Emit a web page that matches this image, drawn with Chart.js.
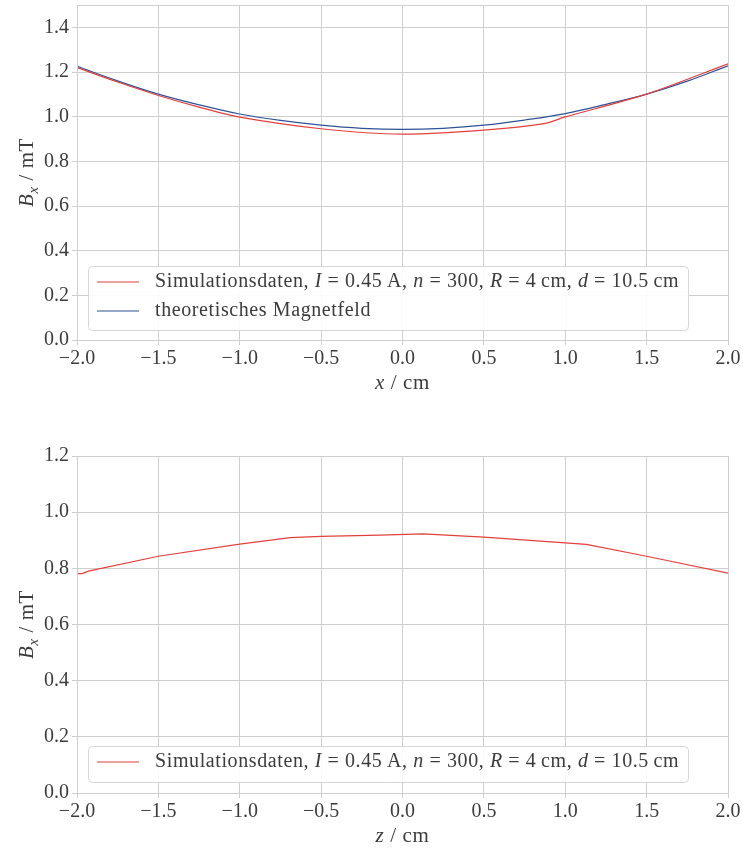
<!DOCTYPE html>
<html>
<head>
<meta charset="utf-8">
<script src="https://cdn.jsdelivr.net/npm/chart.js@4"></script>
<style>
  body { margin: 0; background: #fff; overflow: hidden; }
  canvas { position: absolute; left: 0; }
  #topChart { top: -10px; }
  #bottomChart { top: 410px; }
</style>
</head>
<body>
<canvas id="topChart" width="743" height="420"></canvas>
<canvas id="bottomChart" width="743" height="439"></canvas>
<script>
// Messpunkte entlang x (oben) und z (unten)
const xSim = [-2.0, -1.75, -1.5, -1.25, -1.0, -0.5, 0.0, 0.5, 0.87, 1.0, 1.5, 2.0];
const bxSim = [1.220, 1.155, 1.095, 1.043, 0.998, 0.946, 0.922, 0.940, 0.969, 0.999, 1.101, 1.237];

const xTheory = [-2.0, -1.75, -1.5, -1.25, -1.0, -0.75, -0.5, -0.25, 0.0, 0.25, 0.5, 0.75, 1.0, 1.25, 1.5, 1.75, 2.0];
const bxTheory = [1.225, 1.160, 1.101, 1.053, 1.012, 0.983, 0.962, 0.948, 0.943, 0.948, 0.962, 0.985, 1.014, 1.055, 1.101, 1.159, 1.228];

const zSim = [-2.0, -1.97, -1.93, -1.5, -1.0, -0.69, -0.5, -0.14, 0.125, 0.5, 1.0, 1.13, 1.5, 2.0];
const bzSim = [0.781, 0.781, 0.790, 0.843, 0.886, 0.909, 0.914, 0.918, 0.923, 0.911, 0.891, 0.885, 0.843, 0.783];

const xTicks = [-2.0, -1.5, -1.0, -0.5, 0.0, 0.5, 1.0, 1.5, 2.0];
const yTicksTop = [0.0, 0.2, 0.4, 0.6, 0.8, 1.0, 1.2, 1.4];
const yTicksBottom = [0.0, 0.2, 0.4, 0.6, 0.8, 1.0, 1.2];

const simLabel = [
  { t: "Simulationsdaten, " }, { t: "I", it: true }, { t: " = 0.45\u2009A, " },
  { t: "n", it: true }, { t: " = 300, " }, { t: "R", it: true }, { t: " = 4\u2009cm, " },
  { t: "d", it: true }, { t: " = 10.5\u2009cm" }
];
const theoryLabel = [{ t: "theoretisches Magnetfeld" }];

const RED = "#e2403b";
const BLUE = "#2f5296";
const GRID = "#cfcfcf";
const TEXT = "#3c3c3c";
const FONT = "'Liberation Serif', serif";

function pts(xs, ys) {
  return xs.map((x, i) => ({ x: x, y: ys[i] }));
}

function fmt(v) {
  const s = Math.abs(v).toFixed(1);
  return v < -1e-9 ? "\u2212" + s : s;
}

// Text mit kursiven Teilen und Index zeichnen
function drawParts(ctx, parts, x, y, size) {
  let cx = x;
  parts.forEach(p => {
    const sz = p.sub ? size * 0.7 : size;
    ctx.font = (p.it ? "italic " : "") + sz + "px " + FONT;
    ctx.fillText(p.t, cx, p.sub ? y + size * 0.22 : y);
    cx += ctx.measureText(p.t).width;
  });
  return cx - x;
}

function partsWidth(ctx, parts, size) {
  let w = 0;
  parts.forEach(p => {
    const sz = p.sub ? size * 0.7 : size;
    ctx.font = (p.it ? "italic " : "") + sz + "px " + FONT;
    w += ctx.measureText(p.t).width;
  });
  return w;
}

const decor = {
  id: "decor",
  afterDraw(chart, args, opts) {
    const ctx = chart.ctx;
    const a = chart.chartArea;
    ctx.save();
    // Rahmen
    ctx.strokeStyle = GRID;
    ctx.lineWidth = 1;
    ctx.strokeRect(Math.round(a.left) + 0.5, Math.round(a.top) + 0.5,
      Math.round(a.right - a.left), Math.round(a.bottom - a.top));

    // Achsentitel
    ctx.fillStyle = TEXT;
    ctx.textBaseline = "alphabetic";
    ctx.letterSpacing = "0.6px";
    const size = 21;
    const xt = [{ t: opts.xVar, it: true }, { t: " / cm" }];
    const xw = partsWidth(ctx, xt, size);
    drawParts(ctx, xt, (a.left + a.right) / 2 - xw / 2, a.bottom + opts.xTitleOffset, size);

    const yt = [{ t: "B", it: true }, { t: "x", it: true, sub: true }, { t: " / mT" }];
    const yw = partsWidth(ctx, yt, size);
    ctx.translate(33, (a.top + a.bottom) / 2);
    ctx.rotate(-Math.PI / 2);
    drawParts(ctx, yt, -yw / 2, 0, size);
    ctx.setTransform(1, 0, 0, 1, 0, 0);

    // Legende
    const lg = opts.legend;
    ctx.beginPath();
    ctx.roundRect(lg.x + 0.5, lg.y + 0.5, lg.w, lg.h, 4);
    ctx.fillStyle = "rgba(255,255,255,0.9)";
    ctx.fill();
    ctx.strokeStyle = "#d6d6d6";
    ctx.stroke();
    lg.items.forEach((it, i) => {
      const yy = lg.y + 16 + i * 29;
      ctx.strokeStyle = it.color;
      ctx.lineWidth = 1.2;
      ctx.beginPath();
      ctx.moveTo(lg.x + 9, yy);
      ctx.lineTo(lg.x + 51, yy);
      ctx.stroke();
      ctx.fillStyle = TEXT;
      ctx.textBaseline = "middle";
      drawParts(ctx, it.parts, lg.x + 67, yy, 20);
    });
    ctx.restore();
  }
};

function makeScales(yMax, yTicks, xHeight) {
  return {
    x: {
      type: "linear",
      min: -2,
      max: 2,
      afterBuildTicks: s => { s.ticks = xTicks.map(v => ({ value: v })); },
      afterFit: s => { s.height = xHeight; },
      grid: { color: GRID, tickLength: 5, tickColor: GRID },
      border: { color: GRID },
      ticks: { color: TEXT, font: { family: FONT, size: 20 }, padding: 2, maxRotation: 0, callback: v => fmt(v) }
    },
    y: {
      min: 0,
      max: yMax,
      afterBuildTicks: s => { s.ticks = yTicks.map(v => ({ value: v })); },
      afterFit: s => { s.width = 77; },
      grid: { color: GRID, tickLength: 5, tickColor: GRID },
      border: { color: GRID },
      ticks: { color: TEXT, font: { family: FONT, size: 20 }, padding: 3, callback: v => fmt(v) }
    }
  };
}

let topChart = new Chart(document.getElementById("topChart").getContext("2d"), {
  type: "line",
  data: {
    datasets: [
      { label: "Simulationsdaten", data: pts(xSim, bxSim), borderColor: RED, borderWidth: 1.2, pointRadius: 0, tension: 0.3 },
      { label: "theoretisches Magnetfeld", data: pts(xTheory, bxTheory), borderColor: BLUE, borderWidth: 1.2, pointRadius: 0, tension: 0.4 }
    ]
  },
  options: {
    responsive: false,
    animation: false,
    devicePixelRatio: 1,
    layout: { padding: { left: 0, right: 15, top: 15, bottom: 0 } },
    scales: makeScales(1.5, yTicksTop, 70),
    plugins: {
      legend: { display: false },
      tooltip: { enabled: false },
      decor: {
        xVar: "x",
        xTitleOffset: 49,
        legend: {
          x: 88, y: 276, w: 600, h: 64,
          items: [{ color: RED, parts: simLabel }, { color: BLUE, parts: theoryLabel }]
        }
      }
    }
  },
  plugins: [decor]
});

let bottomChart = new Chart(document.getElementById("bottomChart").getContext("2d"), {
  type: "line",
  data: {
    datasets: [
      { label: "Simulationsdaten", data: pts(zSim, bzSim), borderColor: RED, borderWidth: 1.2, pointRadius: 0, tension: 0 }
    ]
  },
  options: {
    responsive: false,
    animation: false,
    devicePixelRatio: 1,
    layout: { padding: { left: 0, right: 15, top: 46, bottom: 0 } },
    scales: makeScales(1.2, yTicksBottom, 56),
    plugins: {
      legend: { display: false },
      tooltip: { enabled: false },
      decor: {
        xVar: "z",
        xTitleOffset: 49,
        legend: {
          x: 88, y: 336, w: 600, h: 36,
          items: [{ color: RED, parts: simLabel }]
        }
      }
    }
  },
  plugins: [decor]
});
</script>
</body>
</html>
